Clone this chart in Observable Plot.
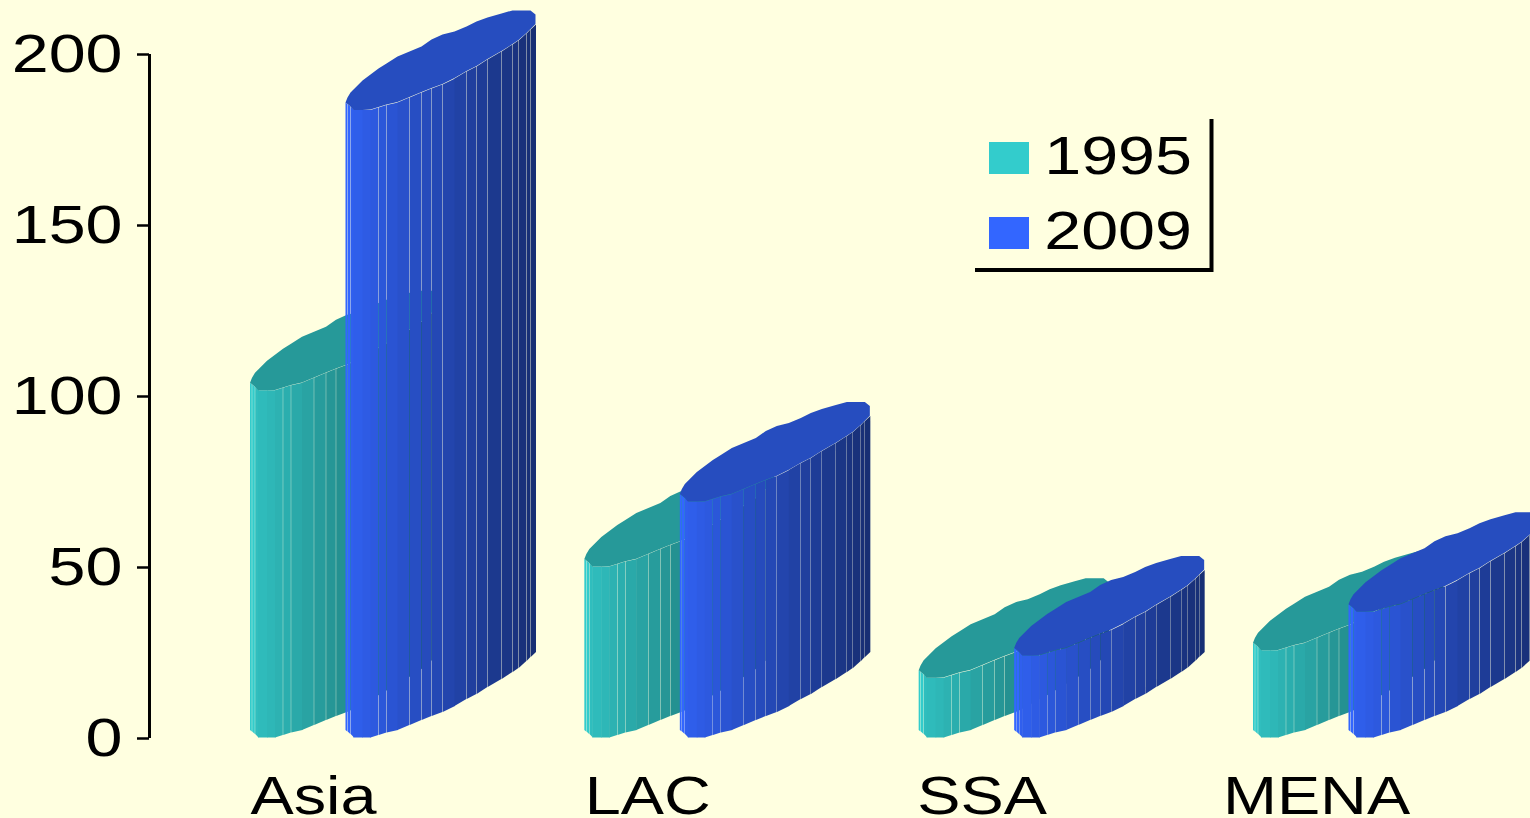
<!DOCTYPE html>
<html>
<head>
<meta charset="utf-8">
<script src="https://cdn.jsdelivr.net/npm/d3@7"></script>
<script src="https://cdn.jsdelivr.net/npm/@observablehq/plot@0.6"></script>
<style>
  html, body { margin: 0; padding: 0; background: #FFFFE0; overflow: hidden; }
  svg { display: block; }
</style>
</head>
<body>
<div id="chart"></div>
<script>
// Regional totals, two survey years
const categories = ["Asia", "LAC", "SSA", "MENA"];
const values1995 = [101.5, 50, 17.5, 25.5];
const values2009 = [183.5, 69, 24, 36.8];
const yTicks = [0, 50, 100, 150, 200];
const seriesNames = ["1995", "2009"];
const seriesColors = [[0x33, 0xCC, 0xCC], [0x33, 0x66, 0xFF]];

// Outline of the extruded column footprint, in footprint units
const outlineX = [0, 2, 5, 8, 17, 25, 33, 41, 52, 64, 76, 86, 97, 109, 121, 131, 142, 156, 167, 173, 181, 185, 190];
const outlineFront = [8, 6.5, 4, 0.5, 0.5, 0.5, 3, 5.5, 8, 13, 18, 22, 26, 32, 39, 44, 51, 59, 66, 70, 77, 81, 86];
const outlineBack = [8, 13, 18, 21, 30, 36, 42, 47, 54, 59, 64, 71, 76, 79, 84, 89, 93, 97, 100, 100, 100, 100, 96];
// Facet boundaries that show a hairline gap between neighbouring strips
const gapAt = new Set([2, 5, 33, 41, 64, 76, 86, 97, 121, 131, 142, 156, 167, 173, 181, 185]);

// Conversions from footprint units to the two data scales
const unitX = 1 / 334.33;
const unitY = 1 / 3.42;
const seriesShift = 95.5 * unitX;
const labelShift = 63 * unitX;
const axisPosition = -101 * unitX;
const gap = 0.34 * unitX;
const overlap = 0.5 * unitX;

const shade = (rgb, k) => `rgb(${rgb.map(c => Math.round(c * k)).join(",")})`;

// One column: a run of shaded facets topped by a flat cap
function columnMarks(slot, series, value) {
  const left = slot + series * seriesShift;
  const rgb = seriesColors[series];
  const strips = [];
  for (let k = 0; k < outlineX.length - 1; ++k) {
    const a = outlineX[k], b = outlineX[k + 1];
    const mid = (a + b) / 2 / 190;
    const fill = shade(rgb, a < 5 ? 1 : 0.95 - 0.5 * mid);
    const xa = left + a * unitX + (gapAt.has(a) ? gap / 2 : 0);
    const xb = left + b * unitX + (gapAt.has(b) ? -gap / 2 : overlap);
    strips.push(
      {k, x: xa, y1: outlineFront[k] * unitY, y2: value + outlineFront[k] * unitY, fill},
      {k, x: xb, y1: outlineFront[k + 1] * unitY, y2: value + outlineFront[k + 1] * unitY, fill}
    );
  }
  const cap = outlineX.map((u, k) => ({
    x: left + u * unitX,
    y1: value + (outlineFront[k] + (u >= 25 ? 0.35 : 0)) * unitY,
    y2: value + outlineBack[k] * unitY
  }));
  return [
    Plot.area(strips, {x1: "x", y1: "y1", y2: "y2", z: "k", fill: "fill"}),
    Plot.area(cap, {x1: "x", y1: "y1", y2: "y2", fill: shade(rgb, 0.75)})
  ];
}

// Legend box, placed in the frame's pixel space
function legendMark() {
  const g = d3.create("svg:g");
  seriesNames.forEach((name, i) => {
    const top = 142 + i * 75;
    g.append("rect").attr("x", 989).attr("y", top).attr("width", 40).attr("height", 32)
      .attr("fill", shade(seriesColors[i], 1));
    g.append("text").attr("x", 1192).attr("y", top + 32).attr("text-anchor", "end")
      .attr("font-size", 54).attr("fill", "black").text(name);
  });
  g.append("path").attr("d", "M975,270H1211.5V119").attr("fill", "none")
    .attr("stroke", "black").attr("stroke-width", 4);
  return g.node();
}

const columns = categories.flatMap((_, i) => [
  ...columnMarks(i, 0, values1995[i]),
  ...columnMarks(i, 1, values2009[i])
]);

const chart = Plot.plot({
  width: 1530,
  height: 818,
  marginLeft: 149,
  marginTop: 54,
  marginBottom: 80,
  marginRight: 0,
  style: {background: "#FFFFE0", fontFamily: "'Liberation Sans', Arial, sans-serif", color: "black"},
  x: {domain: [0, 3], range: [250, 1253], axis: null},
  y: {domain: [0, 200]},
  color: {type: "identity"},
  marks: [
    ...columns,
    Plot.ruleX([axisPosition], {y1: 0, y2: 200, stroke: "black", strokeWidth: 3}),
    Plot.axisY({ticks: yTicks, tickSize: 12, tickPadding: 15, strokeWidth: 2.5, fontSize: 54, label: null, tickFormat: d => String(d)}),
    Plot.text(categories, {
      x: (d, i) => i + labelShift,
      text: d => d,
      frameAnchor: "bottom",
      lineAnchor: "bottom",
      dy: 75,
      fontSize: 54,
      fill: "black"
    }),
    legendMark
  ]
});

document.getElementById("chart").append(chart);

// The chart's lettering is set wide: region names a little less than the numerals
chart.querySelectorAll("text").forEach(t => {
  const stretch = categories.includes(t.textContent) ? 1.2 : 1.23;
  t.setAttribute("textLength", (t.getComputedTextLength() * stretch).toFixed(1));
  t.setAttribute("lengthAdjust", "spacingAndGlyphs");
});
</script>
</body>
</html>
